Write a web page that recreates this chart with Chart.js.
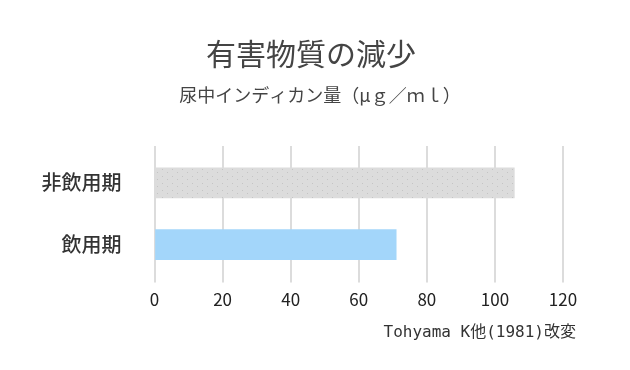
<!DOCTYPE html>
<html lang="ja">
<head>
<meta charset="utf-8">
<script src="https://cdn.jsdelivr.net/npm/chart.js@4"></script>
<style>
  body { margin: 0; background: #fff; }
  .wrap { width: 630px; height: 370px; }
</style>
</head>
<body>
<div class="wrap"><canvas id="chart"></canvas></div>
<script>
const categories = ['非飲用期', '飲用期'];
const values = [105.7, 71];
const xTicks = [0, 20, 40, 60, 80, 100, 120];
const titleText = '有害物質の減少';
const subtitleText = '尿中インディカン量（μｇ／ｍｌ）';
const sourceText = 'Tohyama K他(1981)改変';

const fontFamily = '"Noto Sans CJK JP", "Noto Sans", sans-serif';
const monoFamily = '"DejaVu Sans Mono", "Noto Sans CJK JP", monospace';
const gridColor = '#dcdcdc';

// grey bar has a faint dotted texture
function dotPattern() {
    const c = document.createElement('canvas');
    c.width = 10;
    c.height = 7;
    const g = c.getContext('2d');
    g.fillStyle = '#dcdcdc';
    g.fillRect(0, 0, 10, 7);
    g.fillStyle = '#c4c4c4';
    g.fillRect(2, 1, 1, 1);
    g.fillRect(7, 4, 1, 1);
    return g.createPattern(c, 'repeat');
}

// title, subtitle and source note are placed on the page, not on the plot area
const textPlugin = {
    id: 'texts',
    afterDraw(chart) {
        const ctx = chart.ctx;
        ctx.save();
        ctx.fillStyle = '#444';
        ctx.textAlign = 'center';
        ctx.textBaseline = 'middle';
        ctx.font = '30px ' + fontFamily;
        ctx.fillText(titleText, 311, 54);
        ctx.font = '18px ' + fontFamily;
        ctx.fillText(subtitleText, 320, 95);
        ctx.fillStyle = '#333';
        ctx.textAlign = 'right';
        ctx.font = '16px ' + monoFamily;
        ctx.fillText(sourceText, 576, 333);
        ctx.restore();
    }
};

const ctx = document.getElementById('chart').getContext('2d');
new Chart(ctx, {
    type: 'bar',
    data: {
        labels: categories,
        datasets: [{
            data: values,
            backgroundColor: [dotPattern(), '#a3d6fa'],
            barThickness: 30,
            borderWidth: 0
        }]
    },
    options: {
        indexAxis: 'y',
        responsive: true,
        maintainAspectRatio: false,
        animation: false,
        layout: {
            padding: { left: 0, right: 67, top: 146, bottom: 53 }
        },
        plugins: {
            legend: { display: false },
            tooltip: { enabled: false }
        },
        scales: {
            x: {
                min: 0,
                max: 120,
                afterBuildTicks: (axis) => { axis.ticks = xTicks.map(v => ({ value: v })); },
                border: { display: false },
                grid: { color: gridColor, lineWidth: 2, tickLength: 7 },
                ticks: {
                    color: '#222',
                    padding: 7,
                    font: { family: fontFamily, size: 17 }
                }
            },
            xTop: {
                type: 'linear',
                position: 'top',
                min: 0,
                max: 120,
                afterBuildTicks: (axis) => { axis.ticks = xTicks.map(v => ({ value: v })); },
                border: { display: false },
                grid: { color: gridColor, lineWidth: 2, tickLength: 6, drawOnChartArea: false },
                ticks: { display: false }
            },
            y: {
                afterFit: (axis) => { axis.width = 154.5; },
                border: { display: false },
                grid: { display: false, drawTicks: false },
                ticks: {
                    color: '#333',
                    padding: 33,
                    font: { family: fontFamily, size: 20, weight: '500' }
                }
            }
        }
    },
    plugins: [textPlugin]
});
</script>
</body>
</html>
